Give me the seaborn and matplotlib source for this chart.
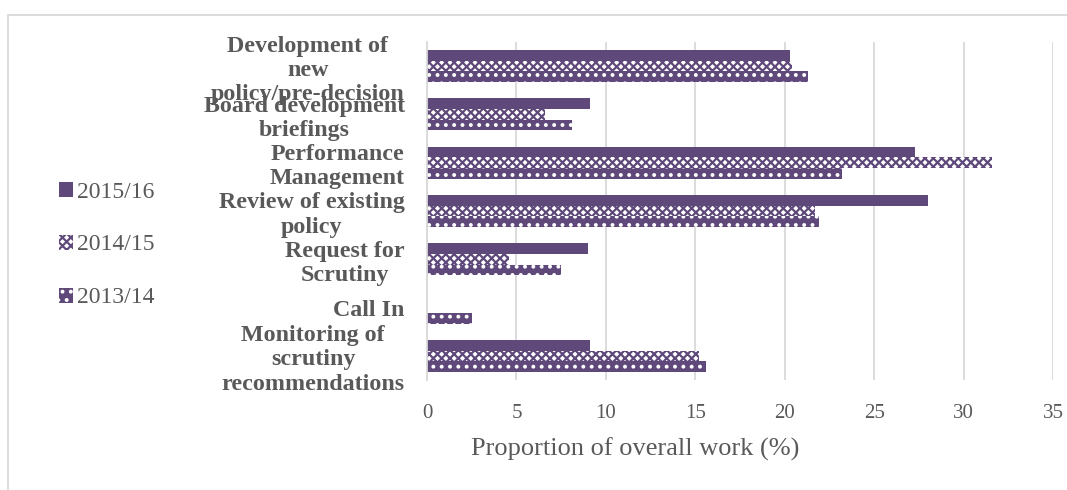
import matplotlib
matplotlib.use("Agg")
import matplotlib.pyplot as plt
from matplotlib.patches import Patch, Rectangle
import pandas as pd
import seaborn as sns

# ---------------------------------------------------------------
# Data
# ---------------------------------------------------------------
categories = [
    "Development of\nnew\npolicy/pre-decision",
    "Board development\nbriefings",
    "Performance\nManagement",
    "Review of existing\npolicy",
    "Request for\nScrutiny",
    "Call In",
    "Monitoring of\nscrutiny\nrecommendations",
]
years = ["2015/16", "2014/15", "2013/14"]
vals_1516 = [20.3, 9.1, 27.3, 28.0, 9.0, 0.0, 9.1]
vals_1415 = [20.4, 6.6, 31.6, 21.7, 4.6, 0.0, 15.2]
vals_1314 = [21.3, 8.1, 23.2, 21.9, 7.5, 2.5, 15.6]
x_ticks = [0, 5, 10, 15, 20, 25, 30, 35]

df = pd.DataFrame({
    "activity": categories * 3,
    "year": [years[0]] * 7 + [years[1]] * 7 + [years[2]] * 7,
    "pct": vals_1516 + vals_1415 + vals_1314,
})

PURPLE = "#5F497A"
TEXT = "#595959"
GRID = "#D9D9D9"

sns.set_theme(style="white")
plt.rcParams["font.family"] = ["Liberation Serif", "DejaVu Serif"]
plt.rcParams["hatch.linewidth"] = 1.6

fig = plt.figure(figsize=(10.67, 4.9), dpi=100)
ax = fig.add_axes([0.4002, 0.2245, 0.5868, 0.6898])

sns.barplot(data=df, x="pct", y="activity", hue="year", hue_order=years,
            order=categories, orient="h", width=0.66, ax=ax, legend=False,
            palette=[PURPLE] * 3, saturation=1)

# styles: solid / checker / dotted
styles = [
    dict(facecolor=PURPLE, edgecolor=PURPLE, hatch=None),
    dict(facecolor="white", edgecolor=PURPLE, hatch="xxxx"),
    dict(facecolor=PURPLE, edgecolor="white", hatch=".."),
]
for cont, st in zip(ax.containers, styles):
    for bar in cont:
        bar.set_facecolor(st["facecolor"])
        bar.set_edgecolor(st["edgecolor"])
        bar.set_linewidth(0)
        if st["hatch"]:
            bar.set_hatch(st["hatch"])

ax.set_xlim(0, 35)
ax.set_xticks(x_ticks)
ax.xaxis.grid(True, color=GRID, linewidth=1.3)
ax.set_axisbelow(True)
for s in ["top", "right", "bottom"]:
    ax.spines[s].set_visible(False)
ax.spines["left"].set_color(GRID)
ax.spines["left"].set_linewidth(1.3)

ax.tick_params(axis="x", length=0, pad=17, labelsize=15, labelcolor=TEXT)
ax.tick_params(axis="y", length=0, pad=16)
for lbl in ax.get_yticklabels():
    lbl.set_fontweight("bold")
    lbl.set_fontsize(17.3)
    lbl.set_color(TEXT)
    lbl.set_multialignment("center")
    lbl.set_linespacing(1.2)

ax.set_ylabel("")
ax.set_xlabel("Proportion of overall work (%)", fontsize=19, color=TEXT)
# Excel centres the title over the whole plot block, labels included
ax.xaxis.set_label_coords(0.332, -0.17)

handles = [Patch(facecolor=st["facecolor"], edgecolor=st["edgecolor"],
                 hatch=st["hatch"], linewidth=0) for st in styles]
fig.legend(handles, years, loc="center left", bbox_to_anchor=(0.035, 0.5),
           frameon=False, fontsize=17, labelcolor=TEXT,
           handlelength=0.6, handleheight=0.6, handletextpad=0.2,
           labelspacing=1.35)

# light border around the chart area
fig.add_artist(Rectangle((8 / 1067, -0.1), 1.2, 1.1 - 15 / 490,
                         transform=fig.transFigure, fill=False,
                         edgecolor=GRID, linewidth=1.3))

fig.savefig("out.png", dpi=100)
